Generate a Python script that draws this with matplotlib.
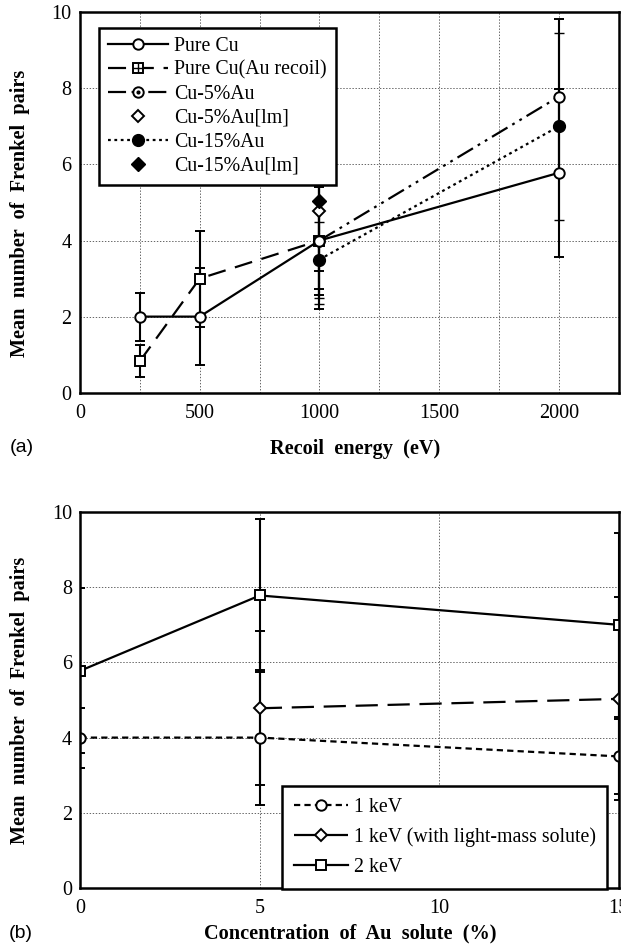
import matplotlib
matplotlib.use("Agg")
import matplotlib.pyplot as plt
from matplotlib.lines import Line2D
import numpy as np

plt.rcParams['font.family'] = ['Liberation Serif', 'DejaVu Serif']
plt.rcParams['lines.scale_dashes'] = False

# ---------------- data: panel (a) ----------------
energy_purecu = [250, 500, 1000, 2000]
fp_purecu = [2.0, 2.0, 4.0, 5.78]
err_purecu = [0.63, 1.27, 0.8, 2.2]

energy_aurecoil = [250, 500, 1000]
fp_aurecoil = [0.83, 3.0, 4.0]
err_aurecoil = [0.42, 1.26, 1.42]

energy_cu5 = [1000, 2000]
fp_cu5 = [4.0, 7.78]
err_cu5 = [1.8, 2.04]

energy_cu5lm = [1000]
fp_cu5lm = [4.78]
err_cu5lm = [2.06]

energy_cu15 = [1000, 2000]
fp_cu15 = [3.5, 7.0]
err_cu15 = [1.0, 2.46]

energy_cu15lm = [1000]
fp_cu15lm = [5.03]
err_cu15lm = [2.7]

labels_a = ["Pure Cu", "Pure Cu(Au recoil)", "Cu-5%Au", "Cu-5%Au[lm]",
            "Cu-15%Au", "Cu-15%Au[lm]"]
xticks_a = [0, 500, 1000, 1500, 2000]

# ---------------- data: panel (b) ----------------
conc_1kev = [0, 5, 15]
fp_1kev = [4.0, 4.0, 3.5]
err_1kev = [0.8, 1.8, 1.0]

conc_1kevlm = [5, 15]
fp_1kevlm = [4.78, 5.03]
err_1kevlm = [2.05, 2.7]

conc_2kev = [0, 5, 15]
fp_2kev = [5.78, 7.78, 7.0]
err_2kev = [2.2, 2.03, 2.45]

labels_b = ["1 keV", "1 keV (with light-mass solute)", "2 keV"]
xticks_b = [0, 5, 10, 15]
yticks = [0, 2, 4, 6, 8, 10]

# ---------------- figure ----------------
W, H = 621, 950
fig = plt.figure(figsize=(W / 100, H / 100), dpi=100)

def ax_rect(l, t, r, b):
    return [l / W, 1 - b / H, (r - l) / W, (b - t) / H]

axa = fig.add_axes(ax_rect(80, 12.3, 618.6, 392.7))
axb = fig.add_axes(ax_rect(80.4, 512, 618.6, 888))

LW = 1.6
ekw = dict(ecolor='black', elinewidth=1.5, capsize=3.5, capthick=1.5)
mk_open = dict(markerfacecolor='white', markeredgecolor='black', markeredgewidth=1.4)
mk_fill = dict(markerfacecolor='black', markeredgecolor='black', markeredgewidth=1.0)

long_dash = (0, (13, 7))
dash_dot2 = (0, (13, 4, 2, 4, 2, 4))
dotted = (0, (2, 2.6))
short_dash = (0, (4.5, 3))
lm_dash = (0, (16, 7))

TICK_FS = 14.5
LABEL_FS = 14.6
LEG_FS = 14.3

for ax in (axa, axb):
    for s in ax.spines.values():
        s.set_linewidth(1.8)
    ax.tick_params(axis='both', which='both', length=0, labelsize=TICK_FS, pad=6)
    ax.tick_params(axis='x', pad=8)
    ax.set_ylim(0, 10)
    ax.set_yticks(yticks)

# ---- panel (a)
axa.set_xlim(0, 2250)
axa.set_xticks(xticks_a)
axa.set_xticks(np.arange(250, 2250, 250), minor=True)
axa.grid(True, which='both', axis='x', color='black', linestyle=(0, (1, 1.2)), linewidth=0.6, alpha=0.7)
axa.grid(True, which='major', axis='y', color='black', linestyle=(0, (1, 1.2)), linewidth=0.6, alpha=0.7)
axa.set_axisbelow(True)

MS_C = 7.5
MS_S = 6.8
MS_D = 6
MS_F = 8.5

axa.errorbar(energy_purecu, fp_purecu, yerr=err_purecu, color='black', lw=LW,
             linestyle='-', marker='o', ms=MS_C, **mk_open, **ekw)
axa.errorbar(energy_aurecoil, fp_aurecoil, yerr=err_aurecoil, color='black', lw=LW,
             linestyle=long_dash, marker='s', ms=MS_S, **mk_open, **ekw)
axa.plot(energy_aurecoil, fp_aurecoil, linestyle='none', marker='+', ms=6.5, mew=1.0, color='black')
axa.errorbar(energy_cu5, fp_cu5, yerr=err_cu5, color='black', lw=LW,
             linestyle=dash_dot2, marker='o', ms=MS_C, **mk_open, **ekw)
axa.plot(energy_cu5, fp_cu5, linestyle='none', marker='o', ms=2, color='black')
axa.errorbar(energy_cu5lm, fp_cu5lm, yerr=err_cu5lm, color='black', lw=LW,
             linestyle='none', marker='D', ms=MS_D, **mk_open, **ekw)
axa.errorbar(energy_cu15, fp_cu15, yerr=err_cu15, color='black', lw=LW,
             linestyle=dotted, marker='o', ms=MS_F, **mk_fill, **ekw)
axa.errorbar(energy_cu15lm, fp_cu15lm, yerr=err_cu15lm, color='black', lw=LW,
             linestyle='none', marker='D', ms=7, **mk_fill, **ekw)

lh1 = Line2D([], [], color='black', lw=LW, linestyle='-', marker='o', ms=MS_C, **mk_open)
lh2a = Line2D([], [], color='black', lw=LW, linestyle=long_dash, marker='s', ms=MS_S, **mk_open)
lh2b = Line2D([], [], color='black', linestyle='none', marker='+', ms=6.5, mew=1.0)
lh3a = Line2D([], [], color='black', lw=LW, linestyle=dash_dot2, marker='o', ms=MS_C, **mk_open)
lh3b = Line2D([], [], color='black', linestyle='none', marker='o', ms=2)
lh4 = Line2D([], [], color='black', linestyle='none', marker='D', ms=MS_D, **mk_open)
lh5 = Line2D([], [], color='black', lw=LW, linestyle=dotted, marker='o', ms=MS_F, **mk_fill)
lh6 = Line2D([], [], color='black', linestyle='none', marker='D', ms=7, **mk_fill)

leg_a = axa.legend([lh1, (lh2a, lh2b), (lh3a, lh3b), lh4, lh5, lh6], labels_a,
                   loc='upper left', bbox_to_anchor=((99 - 80) / 538.6, 1 - (27.7 - 12.3) / 380.4),
                   borderaxespad=0, fontsize=LEG_FS, handlelength=3.0, handletextpad=0.35,
                   labelspacing=0.25, borderpad=0.45, fancybox=False, framealpha=1,
                   edgecolor='black')
leg_a.get_frame().set_linewidth(1.8)
leg_a.set_zorder(10)

axa.set_xlabel("Recoil  energy  (eV)", fontsize=LABEL_FS, fontweight='bold')
axa.xaxis.set_label_coords(0.51, -0.122)
axa.set_ylabel("Mean  number  of  Frenkel  pairs", fontsize=LABEL_FS, fontweight='bold')
axa.yaxis.set_label_coords(-0.093, 0.472)
fig.text(22 / W, 1 - 447 / H, "(a)", fontsize=14, family=['Liberation Sans', 'DejaVu Sans'],
         ha='center', va='center')

# ---- panel (b)
axb.set_xlim(0, 15)
axb.set_xticks(xticks_b)
axb.grid(True, which='major', color='black', linestyle=(0, (1, 1.2)), linewidth=0.6, alpha=0.7)
axb.set_axisbelow(True)

axb.errorbar(conc_1kev, fp_1kev, yerr=err_1kev, color='black', lw=LW,
             linestyle=short_dash, marker='o', ms=MS_C, **mk_open, **ekw)
axb.errorbar(conc_1kevlm, fp_1kevlm, yerr=err_1kevlm, color='black', lw=LW,
             linestyle=lm_dash, marker='D', ms=MS_D, **mk_open, **ekw)
axb.errorbar(conc_2kev, fp_2kev, yerr=err_2kev, color='black', lw=LW,
             linestyle='-', marker='s', ms=7.5, **mk_open, **ekw)

lg1 = Line2D([], [], color='black', lw=LW, linestyle=short_dash, marker='o', ms=MS_C, **mk_open)
lg2 = Line2D([], [], color='black', lw=LW, linestyle=lm_dash, marker='D', ms=MS_D, **mk_open)
lg3 = Line2D([], [], color='black', lw=LW, linestyle='-', marker='s', ms=7.5, **mk_open)
leg_b = axb.legend([lg1, lg2, lg3], labels_b, loc='lower left',
                   bbox_to_anchor=((282 - 80.4) / 538.2, -0.003), borderaxespad=0,
                   fontsize=LEG_FS, handlelength=2.7, handletextpad=0.3,
                   labelspacing=0.55, borderpad=0.6,
                   fancybox=False, framealpha=1, edgecolor='black')
leg_b.get_frame().set_linewidth(1.8)
leg_b.set_zorder(10)

axb.set_xlabel("Concentration  of  Au  solute  (%)", fontsize=LABEL_FS, fontweight='bold')
axb.xaxis.set_label_coords(0.502, -0.094)
axb.set_ylabel("Mean  number  of  Frenkel  pairs", fontsize=LABEL_FS, fontweight='bold')
axb.yaxis.set_label_coords(-0.093, 0.5)
fig.text(21 / W, 1 - 934 / H, "(b)", fontsize=14, family=['Liberation Sans', 'DejaVu Sans'],
         ha='center', va='center')

fig.savefig("out.png", dpi=100)
